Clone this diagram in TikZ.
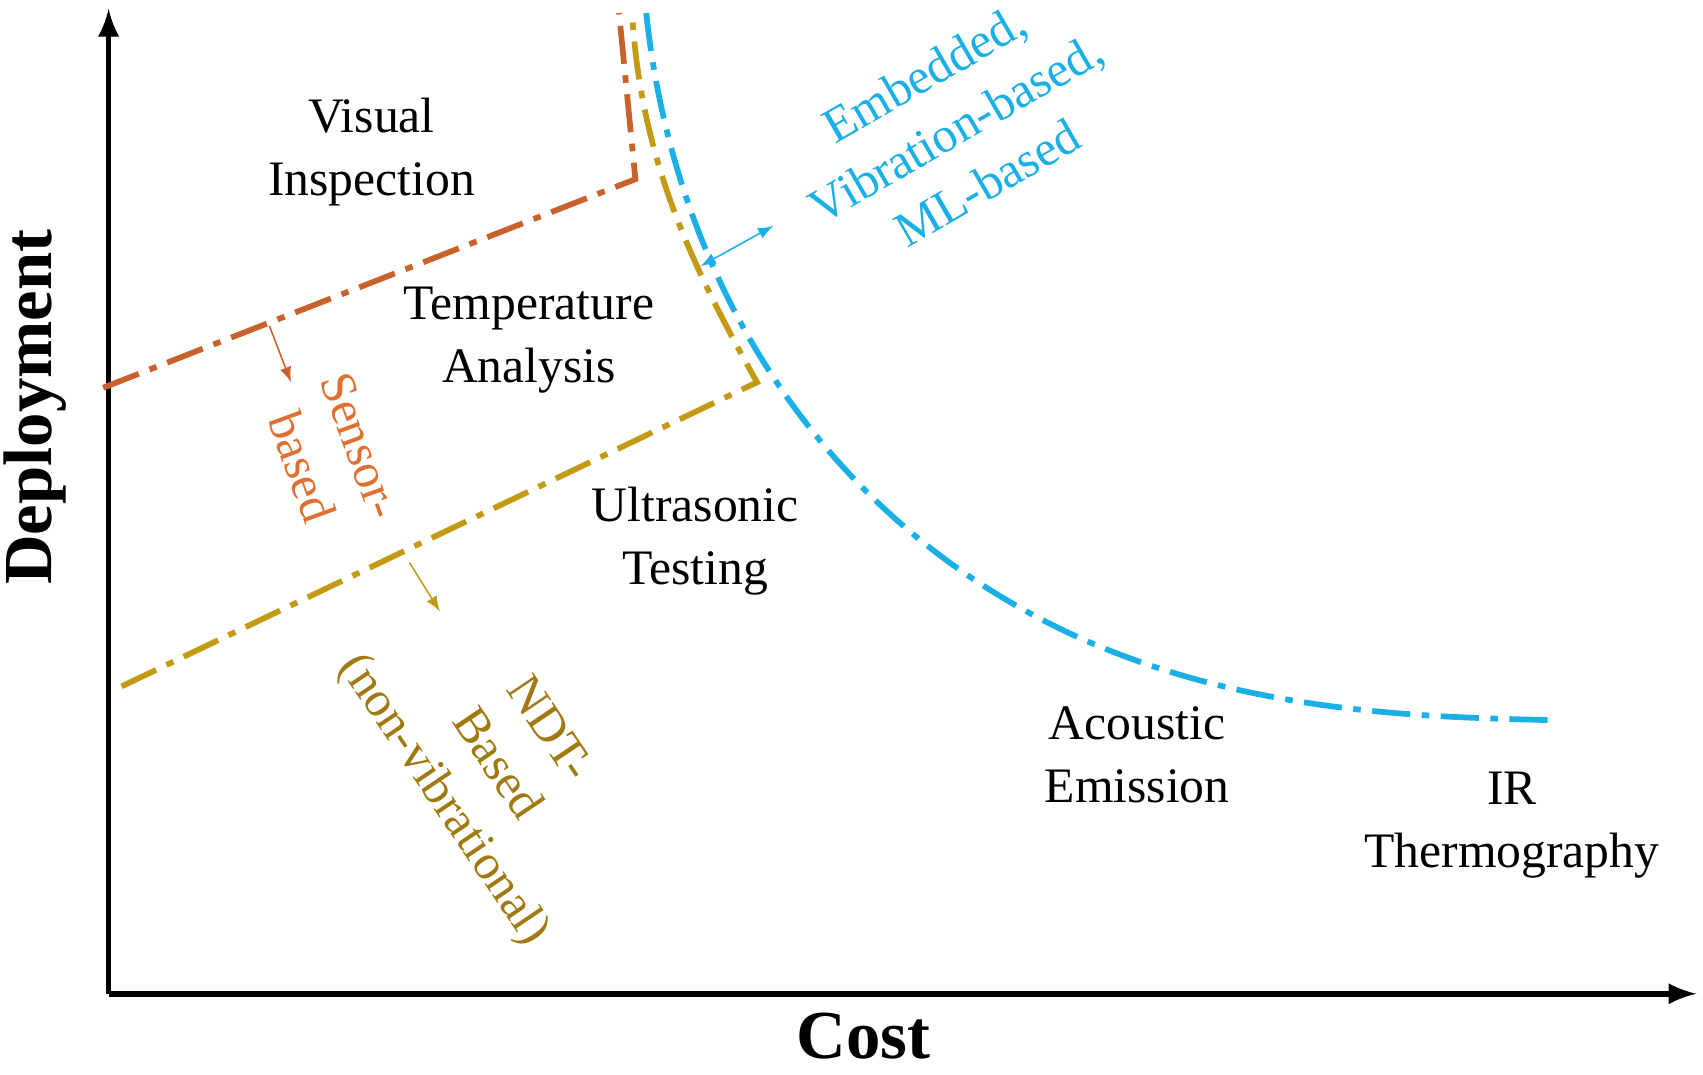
\documentclass[tikz,border=0pt]{standalone}
\usepackage{fontspec}
\setmainfont{Liberation Serif}
\begin{document}
\begin{tikzpicture}[x=0.01cm,y=-0.01cm,
 lab/.style={font=\fontsize{13}{16.5}\selectfont,align=center},
 dd/.style={line width=1.5pt,dash pattern=on 10pt off 3pt on 2pt off 3pt}]
\definecolor{oc}{HTML}{C8612B}\definecolor{gc}{HTML}{C49A14}
\definecolor{bc}{HTML}{1AAFE6}\definecolor{ot}{HTML}{E07030}\definecolor{nt}{HTML}{A07A10}
\useasboundingbox (0,0) rectangle (1568,989);
\coordinate (O) at (100,915);
\coordinate (Y) at (100,8);
\coordinate (X) at (1562,915);
\draw[line width=1.5pt,-latex] (O) -- (Y);
\draw[line width=1.5pt,-latex] (O) -- (X);
\node[font=\bfseries\fontsize{18}{20}\selectfont,rotate=90] (dep) at (32,375) {Deployment};
\node[font=\bfseries\fontsize{18}{20}\selectfont] (cost) at (795,954) {Cost};
% orange
\coordinate (o1) at (95,357); \coordinate (o2) at (585,165); \coordinate (o3) at (570,12);
\draw[oc,dd] (o1) -- (o2) -- (o3);
% gold
\coordinate (g1) at (112,632); \coordinate (g2) at (697,352); \coordinate (g3) at (582,12);
\draw[gc,dd] (g1) -- (g2) .. controls (640,250) and (590,150) .. (g3);
% blue
\coordinate (b1) at (595,12); \coordinate (b2) at (1425,663);
\draw[bc,dd] (b1) .. controls (620,250) and (750,480) .. (1000,590) .. controls (1150,655) and (1300,660) .. (b2);
% small arrows
\coordinate (a1) at (248,300); \coordinate (a2) at (268,352);
\draw[oc,-latex,thin] (a1) -- (a2);
\coordinate (a3) at (377,518); \coordinate (a4) at (405,563);
\draw[gc,-latex,thin] (a3) -- (a4);
\coordinate (a5) at (645,245); \coordinate (a6) at (712,208);
\draw[bc,latex-latex,thin] (a5) -- (a6);
% labels
\node[lab] (vi) at (342,140) {Visual\\Inspection};
\node[lab] (ta) at (487,313) {Temperature\\Analysis};
\node[lab] (ut) at (640,498) {Ultrasonic\\Testing};
\node[lab] (ae) at (1047,695) {Acoustic\\Emission};
\node[lab] (ir) at (1392,760) {IR\\Thermography};
\node[lab,bc,rotate=30] (emb) at (880,118) {Embedded,\\Vibration-based,\\ML-based};
\node[lab,ot,rotate=-70] (sb) at (305,420) {Sensor-\\based};
\node[lab,nt,rotate=-56] (ndt) at (455,705) {NDT-\\Based\\(non-vibrational)};
\end{tikzpicture}
\end{document}
